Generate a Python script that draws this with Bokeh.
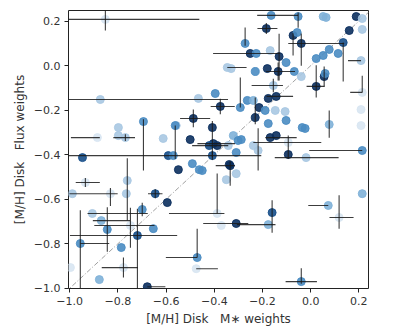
from bokeh.plotting import figure
from bokeh.models import Range1d, FixedTicker, ColumnDataSource
from bokeh.embed import file_html
from bokeh.resources import INLINE

# ---- data ----
mx = [-0.852, -0.873, -0.164, -0.052, -0.184, 0.052, 0.064, 0.189, 0.214, 0.214,
      0.160, 0.135, -0.073, -0.056, -0.039, -0.272, -0.251, -0.226, -0.168, -0.131,
      -0.102, 0.023, 0.052, 0.077, 0.114, 0.209, -0.346, -0.330, -0.230, -0.180,
      -0.135, -0.068, -0.039, 0.056, 0.060, 0.023, 0.214, -0.155, -0.292, -0.176,
      -0.143, -0.396, -0.263, -0.238, -0.214, -0.189, -0.147, -0.106, -0.375, -0.487,
      -0.558, -0.408, -0.230, -0.176, -0.102, -0.035, -0.023, 0.077, 0.209, 0.209,
      -0.404, -0.388, -0.321, -0.301, -0.342, -0.218, -0.168, -0.143, -0.093, -0.093,
      -0.019, 0.214, -0.309, -0.338, -0.309, -0.350, -0.388, -0.334, -0.450, -0.491,
      -0.462, -0.549, -0.408, -0.160, -0.176, -0.309, -0.371, 0.073, 0.118, 0.214,
      -0.471, -0.475, -0.039, -0.947, -0.694, -0.591, -0.570, -0.761, -0.765, -0.935,
      -0.989, -0.831, -0.645, -0.595, -0.956, -0.906, -0.699, -0.844, -0.869, -0.748,
      -0.653, -0.719, -0.786, -0.777, -0.997, -0.877, -0.678, -0.798, -0.798, -0.769,
      -0.885, -0.612, -0.562, -0.500, -0.466, -0.421, -0.288, -0.238]
my = [0.208, -0.152, 0.226, 0.221, 0.167, 0.221, 0.217, 0.221, 0.212, 0.163,
      0.158, 0.104, 0.136, 0.149, 0.100, 0.100, 0.055, 0.055, 0.068, 0.041,
      0.014, 0.032, 0.046, 0.073, 0.055, 0.023, -0.008, -0.013, -0.026, -0.013,
      -0.026, -0.026, -0.049, -0.049, -0.035, -0.093, -0.120, -0.089, -0.188, -0.147,
      -0.138, -0.125, -0.156, -0.156, -0.188, -0.201, -0.201, -0.206, -0.183, -0.237,
      -0.269, -0.278, -0.233, -0.260, -0.246, -0.278, -0.282, -0.264, -0.269, -0.197,
      -0.350, -0.359, -0.314, -0.336, -0.359, -0.381, -0.323, -0.314, -0.345, -0.399,
      -0.413, -0.381, -0.390, -0.444, -0.485, -0.512, -0.664, -0.449, -0.471, -0.440,
      -0.467, -0.467, -0.404, -0.660, -0.714, -0.709, -0.718, -0.628, -0.682, -0.575,
      -0.862, -0.912, -0.970, -0.413, -0.251, -0.404, -0.404, -0.516, -0.575, -0.525,
      -0.575, -0.575, -0.575, -0.615, -0.799, -0.664, -0.646, -0.736, -0.696, -0.718,
      -0.732, -0.763, -0.817, -0.907, -0.907, -0.961, -0.993, -0.278, -0.314, -0.323,
      -0.323, -0.327, -0.269, -0.332, -0.147, -0.359, -0.332, -0.359]
x_lo = [0.39, 0.13, 0.058, 0, 0.037, 0, 0, 0, 0, 0,
        0, 0, 0, 0, 0.054, 0, 0.154, 0, 0, 0,
        0, 0, 0, 0, 0, 0.054, 0, 0, 0, 0,
        0.05, 0, 0, 0, 0, 0.04, 0.05, 0.09, 0, 0,
        0.04, 0, 0, 0, 0, 0, 0, 0, 0.04, 0.055,
        0, 0, 0, 0, 0, 0, 0, 0, 0, 0,
        0.066, 0, 0, 0, 0.15, 0, 0.02, 0, 0.145, 0,
        0.13, 0.22, 0, 0, 0, 0, 0.2, 0.06, 0, 0,
        0, 0, 0, 0, 0.13, 0.137, 0, 0.083, 0.04, 0,
        0.13, 0, 0.065, 0, 0, 0.415, 0, 0, 0, 0.04,
        0, 0.17, 0.03, 0, 0, 0.02, 0, 0, 0.035, 0.15,
        0, 0.28, 0, 0.09, 0, 0, 0, 0, 0, 0.05,
        0.11, 0, 0, 0, 0, 0, 0, 0]
x_hi = [0.39, 0.53, 0.112, 0, 0.046, 0, 0, 0, 0, 0,
        0, 0, 0, 0, 0.178, 0, 0.125, 0, 0, 0,
        0, 0, 0, 0, 0, 0, 0.08, 0, 0, 0,
        0.07, 0, 0, 0, 0, 0.035, 0, 0.04, 0, 0,
        0.07, 0, 0, 0, 0, 0, 0, 0, 0.06, 0.07,
        0, 0, 0, 0, 0, 0, 0, 0, 0, 0,
        0.09, 0, 0, 0, 0, 0, 0.11, 0, 0.137, 0,
        0.135, 0, 0, 0, 0, 0, 0.03, 0.02, 0, 0,
        0, 0, 0, 0, 0.03, 0.05, 0, 0, 0.06, 0,
        0, 0.09, 0.065, 0, 0, 0.386, 0, 0, 0, 0.06,
        0, 0.03, 0.03, 0, 0.12, 0.23, 0, 0, 0.12, 0.1,
        0, 0.165, 0, 0.06, 0, 0, 0.075, 0, 0, 0.04,
        0.01, 0, 0, 0, 0, 0, 0, 0]
y_lo = [0.05, 0, 0, 0.05, 0.025, 0, 0, 0, 0, 0,
        0, 0.175, 0.09, 0, 0.1, 0.01, 0, 0, 0, 0.108,
        0, 0, 0, 0, 0, 0, 0, 0, 0, 0,
        0.04, 0, 0, 0.045, 0, 0.05, 0, 0.03, 0, 0,
        0, 0, 0, 0, 0, 0, 0, 0, 0.035, 0.04,
        0, 0.135, 0.03, 0, 0, 0, 0, 0.06, 0, 0,
        0, 0, 0, 0, 0, 0.09, 0, 0, 0, 0.02,
        0, 0, 0, 0, 0, 0, 0, 0.09, 0, 0,
        0, 0, 0.02, 0.09, 0, 0, 0, 0, 0.05, 0,
        0, 0, 0.01, 0, 0.22, 0, 0, 0.18, 0, 0.02,
        0, 0.055, 0.02, 0, 0.2, 0, 0.03, 0.1, 0, 0.1,
        0, 0.24, 0, 0.045, 0, 0, 0, 0, 0, 0.015,
        0, 0, 0.15, 0, 0, 0, 0, 0]
y_hi = [0.05, 0, 0, 0.018, 0.025, 0, 0, 0, 0, 0,
        0, 0, 0.01, 0, 0.045, 0.072, 0, 0, 0, 0.103,
        0, 0, 0, 0, 0, 0, 0, 0, 0, 0,
        0.04, 0, 0, 0.045, 0, 0.095, 0.075, 0.03, 0.135, 0,
        0, 0, 0, 0, 0, 0, 0, 0, 0.035, 0.04,
        0, 0.03, 0.09, 0, 0, 0, 0, 0.063, 0, 0,
        0, 0, 0, 0, 0, 0.1, 0, 0, 0, 0.085,
        0, 0, 0, 0, 0, 0, 0.18, 0.02, 0, 0,
        0, 0, 0.02, 0.055, 0, 0, 0, 0, 0.1, 0,
        0.13, 0, 0.06, 0, 0.01, 0, 0, 0.1, 0, 0.02,
        0, 0.025, 0.02, 0, 0.15, 0, 0.03, 0.1, 0, 0.08,
        0, 0.12, 0, 0.045, 0, 0, 0, 0, 0, 0.015,
        0, 0, 0, 0, 0, 0, 0, 0]
shade = [0, 1, 3, 3, 6, 2, 2, 6, 1, 1,
         6, 5, 6, 3, 6, 3, 6, 3, 1, 6,
         3, 3, 3, 3, 3, 1, 1, 1, 3, 6,
         6, 3, 1, 6, 3, 6, 0, 1, 3, 6,
         6, 3, 3, 2, 6, 3, 1, 1, 6, 6,
         1, 6, 6, 3, 3, 3, 3, 2, 0, 0,
         6, 6, 2, 3, 1, 1, 6, 6, 0, 6,
         1, 3, 3, 6, 1, 1, 0, 6, 3, 3,
         3, 6, 5, 5, 2, 6, 0, 2, 0, 2,
         3, 0, 3, 5, 3, 5, 3, 1, 1, 0,
         1, 0, 5, 6, 3, 1, 3, 3, 2, 0,
         3, 5, 3, 0, 0, 2, 6, 1, 1, 1,
         0, 1, 3, 6, 1, 5, 3, 1]
palette = ["#d8e6f2", "#a9c8e2", "#80b1d8", "#4a8cc2", "#2a6aa5", "#174f8a", "#0b2f5e"]
diag = [-1.05, 0.26]
ticks = [-1.0, -0.8, -0.6, -0.4, -0.2, 0.0, 0.2]
tick_labels = ["\u22121.0", "\u22120.8", "\u22120.6", "\u22120.4", "\u22120.2", "0.0", "0.2"]

n = len(mx)
src = ColumnDataSource(dict(
    x=mx, y=my, c=[palette[s] for s in shade],
    x0=[mx[i] - x_lo[i] for i in range(n)], x1=[mx[i] + x_hi[i] for i in range(n)],
    y0=[my[i] - y_lo[i] for i in range(n)], y1=[my[i] + y_hi[i] for i in range(n)],
))

p = figure(width=395, height=329, output_backend="svg", toolbar_location=None,
           x_range=Range1d(-1.005, 0.24), y_range=Range1d(-1.001, 0.248),
           min_border_left=68, min_border_right=27, min_border_top=10, min_border_bottom=41)
p.background_fill_color = "white"
p.border_fill_color = "white"
p.outline_line_color = "#222222"
p.outline_line_width = 1
p.xgrid.visible = False
p.ygrid.visible = False

# reference line y = x
p.line(diag, diag, line_color="#888888", line_width=0.8, line_dash="5 2 1 2")

p.scatter("x", "y", source=src, size=8, fill_color="c", line_color="c", fill_alpha=0.9, line_alpha=0.9)
p.segment("x0", "y", "x1", "y", source=src, line_color="#1a1a1a", line_width=1.1, line_alpha=0.85)
p.segment("x", "y0", "x", "y1", source=src, line_color="#1a1a1a", line_width=1.1, line_alpha=0.85)

for ax in (p.xaxis[0], p.yaxis[0]):
    ax.ticker = FixedTicker(ticks=ticks)
    ax.major_label_overrides = {t: l for t, l in zip(ticks, tick_labels)}
    ax.minor_tick_line_color = None
    ax.major_tick_out = 4
    ax.major_tick_in = 0
    ax.major_tick_line_color = "#222222"
    ax.axis_line_color = None
    ax.major_label_text_font = "DejaVu Sans"
    ax.major_label_text_font_size = "11px"
    ax.major_label_text_color = "#333333"
    ax.axis_label_text_font = "DejaVu Sans"
    ax.axis_label_text_font_size = "12px"
    ax.axis_label_text_font_style = "normal"
    ax.axis_label_text_color = "#333333"
    ax.major_label_standoff = 4
    ax.axis_label_standoff = 4

sp = "\u00a0\u00a0\u00a0"
p.xaxis.axis_label = "[M/H] Disk" + sp + "M\u2217 weights"
p.yaxis.axis_label = "[M/H] Disk" + sp + "Flux weights"

open("out.html", "w").write(file_html(p, INLINE))
